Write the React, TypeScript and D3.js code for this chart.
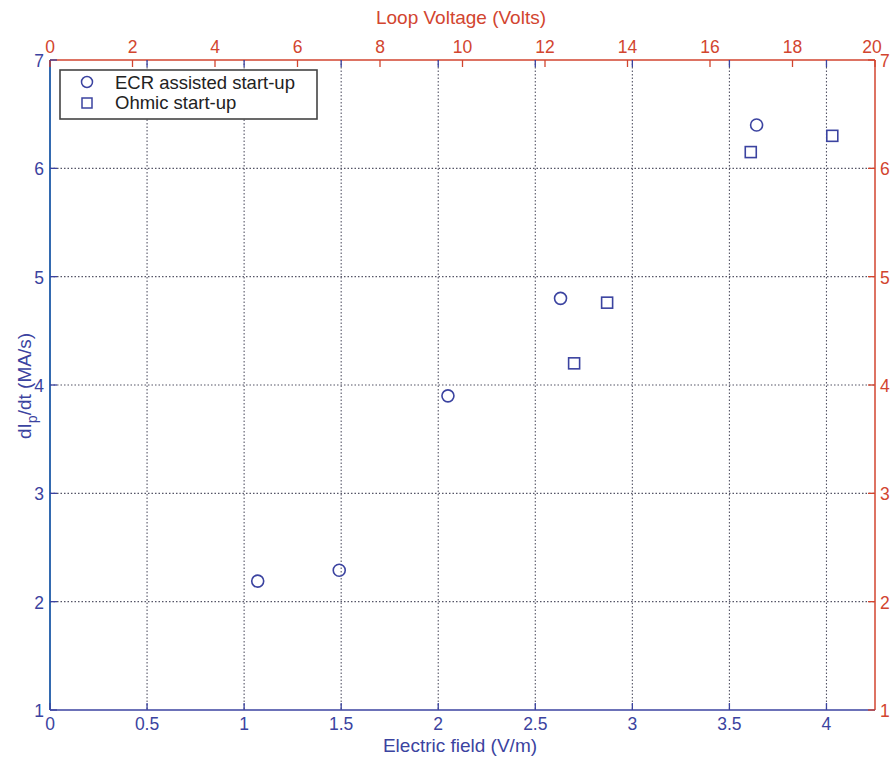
import React from "react";
import * as d3 from "d3";

const ecrField = [1.07, 1.49, 2.05, 2.63, 3.64];
const ecrRate = [2.19, 2.29, 3.9, 4.8, 6.4];
const ohmicField = [2.70, 2.87, 3.61, 4.03];
const ohmicRate = [4.2, 4.76, 6.15, 6.3];
const xTicks = [0, 0.5, 1, 1.5, 2, 2.5, 3, 3.5, 4];
const yTicks = [1, 2, 3, 4, 5, 6, 7];
const voltTicks = [0, 2, 4, 6, 8, 10, 12, 14, 16, 18, 20];

const W = 894, H = 763;
const L = 50, R = 875, T = 60, B = 710;
const BLUE = "#3b43a0";
const RED = "#d2452f";
const FONT = "'Liberation Sans', Arial, sans-serif";

export default function App() {
  const x = d3.scaleLinear().domain([0, 4.25]).range([L, R]);
  const xv = d3.scaleLinear().domain([0, 20]).range([L, R]);
  const y = d3.scaleLinear().domain([1, 7]).range([B, T]);
  const tl = 7;
  return (
    <svg width={W} height={H} style={{ position: "absolute", left: 0, top: 0, background: "#fff" }}>
      <rect x={0} y={0} width={W} height={H} fill="#fff" />
      {/* grid */}
      {xTicks.filter(t => t > 0).map(t => (
        <line key={"gx" + t} x1={x(t)} x2={x(t)} y1={T} y2={B} stroke="#556" strokeWidth={1.1} strokeDasharray="1.5,2" />
      ))}
      {yTicks.filter(t => t > 1 && t < 7).map(t => (
        <line key={"gy" + t} x1={L} x2={R} y1={y(t)} y2={y(t)} stroke="#556" strokeWidth={1.1} strokeDasharray="1.5,2" />
      ))}
      {/* axes lines */}
      <line x1={L} x2={R} y1={T} y2={T} stroke={RED} strokeWidth={1.5} />
      <line x1={R} x2={R} y1={T} y2={B} stroke={RED} strokeWidth={1.5} />
      <line x1={L} x2={R} y1={B} y2={B} stroke={BLUE} strokeWidth={1.5} />
      <line x1={L} x2={L} y1={T} y2={B} stroke="#1d5aa8" strokeWidth={1.8} />
      {/* bottom ticks + top blue ticks */}
      {xTicks.map(t => (
        <g key={"xt" + t}>
          <line x1={x(t)} x2={x(t)} y1={B} y2={B - tl} stroke={BLUE} strokeWidth={1.3} />
          <line x1={x(t)} x2={x(t)} y1={T} y2={T + tl} stroke={BLUE} strokeWidth={1.3} />
          <text x={x(t)} y={730} fill={BLUE} fontSize={17.5} fontFamily={FONT} textAnchor="middle">{String(t)}</text>
        </g>
      ))}
      {/* top red ticks */}
      {voltTicks.map(t => (
        <g key={"vt" + t}>
          <line x1={xv(t)} x2={xv(t)} y1={T} y2={T + tl} stroke={RED} strokeWidth={1.3} />
          <text x={xv(t) - (t === 20 ? 3 : 0)} y={53} fill={RED} fontSize={17.5} fontFamily={FONT} textAnchor="middle">{String(t)}</text>
        </g>
      ))}
      {/* left & right y ticks */}
      {yTicks.map(t => (
        <g key={"yt" + t}>
          <line x1={L} x2={L + tl} y1={y(t)} y2={y(t)} stroke={BLUE} strokeWidth={1.3} />
          <line x1={R} x2={R - tl} y1={y(t)} y2={y(t)} stroke={RED} strokeWidth={1.3} />
          <text x={44} y={y(t) + 7} fill={BLUE} fontSize={17.5} fontFamily={FONT} textAnchor="end">{String(t)}</text>
          <text x={880} y={y(t) + 7} fill={RED} fontSize={17.5} fontFamily={FONT} textAnchor="start">{String(t)}</text>
        </g>
      ))}
      {/* axis titles */}
      <text x={461} y={24} fill={RED} fontSize={19} fontFamily={FONT} textAnchor="middle">Loop Voltage (Volts)</text>
      <text x={460} y={752} fill={BLUE} fontSize={19} fontFamily={FONT} textAnchor="middle">Electric field (V/m)</text>
      <text transform={`translate(31,${386}) rotate(-90)`} fill={BLUE} fontSize={19} fontFamily={FONT} textAnchor="middle">
        dI<tspan fontSize={14} dy={6}>p</tspan><tspan dy={-6}>/dt (MA/s)</tspan>
      </text>
      {/* data */}
      {ecrField.map((f, i) => (
        <circle key={"c" + i} cx={x(f)} cy={y(ecrRate[i])} r={6} fill="none" stroke={BLUE} strokeWidth={1.6} />
      ))}
      {ohmicField.map((f, i) => (
        <rect key={"s" + i} x={x(f) - 5.5} y={y(ohmicRate[i]) - 5.5} width={11} height={11} fill="none" stroke={BLUE} strokeWidth={1.6} />
      ))}
      {/* legend */}
      <rect x={60} y={70} width={257} height={49} fill="#fff" stroke="#444" strokeWidth={1.6} />
      <circle cx={87} cy={82} r={5.5} fill="none" stroke={BLUE} strokeWidth={1.5} />
      <rect x={82} y={98} width={10} height={10} fill="none" stroke={BLUE} strokeWidth={1.5} />
      <text x={115} y={89} fill="#222" fontSize={18.5} fontFamily={FONT}>ECR assisted start-up</text>
      <text x={115} y={109} fill="#222" fontSize={18.5} fontFamily={FONT}>Ohmic start-up</text>
    </svg>
  );
}
